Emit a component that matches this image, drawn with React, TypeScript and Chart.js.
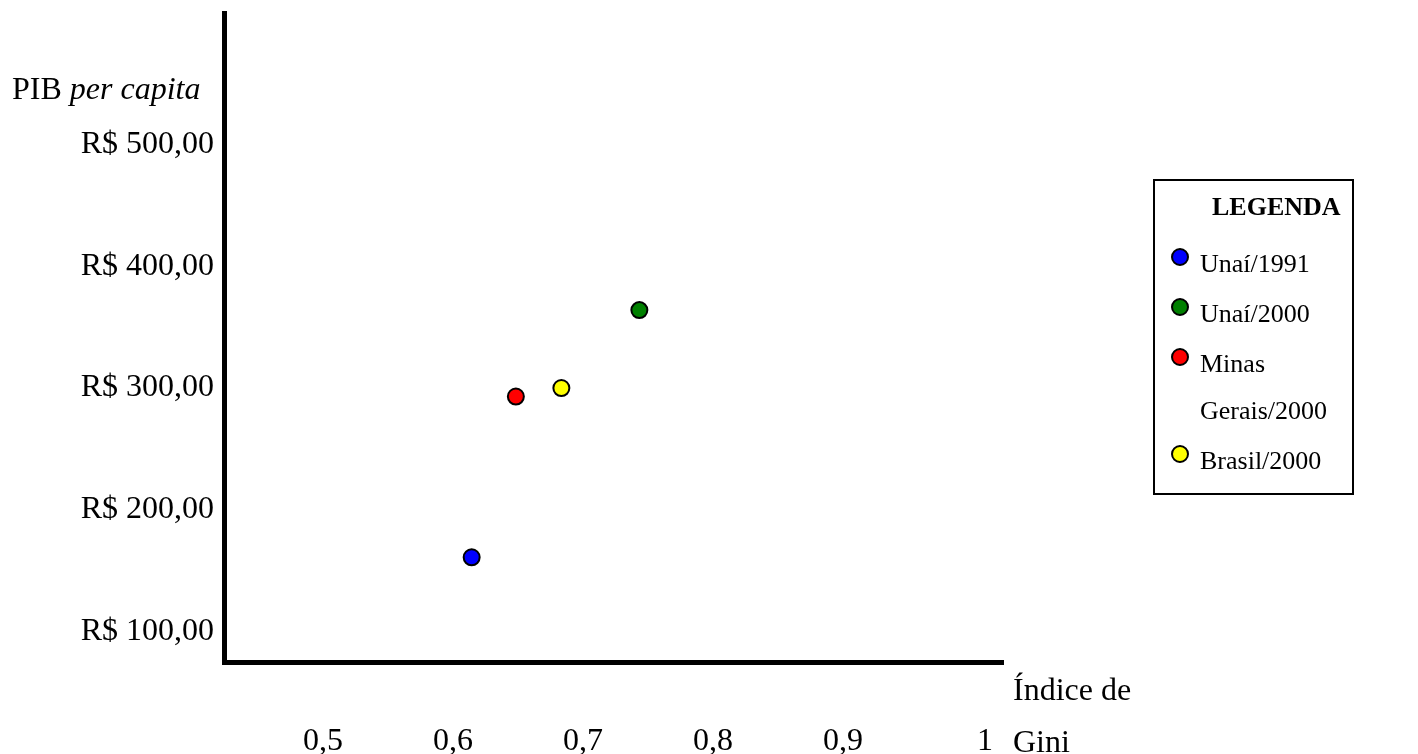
import React, { useEffect, useRef } from 'react';
import { Chart, registerables } from 'chart.js';

Chart.register(...registerables);

// ---- Data ----
const seriesLabels = ['Unaí/1991', 'Unaí/2000', 'Minas Gerais/2000', 'Brasil/2000'];
const giniValues = [0.599, 0.728, 0.633, 0.668];
const pibValues = [161, 364, 293, 300];
const pointColors = ['#0000ff', '#008000', '#ff0000', '#ffff00'];

const xTickValues = [0.5, 0.6, 0.7, 0.8, 0.9, 1];
const xTickLabels = ['0,5', '0,6', '0,7', '0,8', '0,9', '1'];
const yTickValues = [100, 200, 300, 400, 500];
const yTickLabels = ['R$ 100,00', 'R$ 200,00', 'R$ 300,00', 'R$ 400,00', 'R$ 500,00'];

const yTitleNormal = 'PIB ';
const yTitleItalic = 'per capita';
const xTitleLines = ['Índice de', 'Gini'];
const legendTitle = 'LEGENDA';

const FONT = '"Liberation Serif", "Times New Roman", serif';

const titlesPlugin = {
  id: 'axisTitles',
  afterDraw(chart: any) {
    const { ctx, chartArea } = chart;
    ctx.save();
    ctx.fillStyle = '#000';
    ctx.textBaseline = 'alphabetic';
    ctx.textAlign = 'left';
    // y title: "PIB per capita"
    const ty = chartArea.top + 86;
    ctx.font = `32px ${FONT}`;
    ctx.fillText(yTitleNormal, 12, ty);
    const w = ctx.measureText(yTitleNormal).width;
    ctx.font = `italic 32px ${FONT}`;
    ctx.fillText(yTitleItalic, 12 + w, ty);
    // x title at the right end of the axis
    ctx.font = `32px ${FONT}`;
    const tx = chartArea.right + 10;
    ctx.fillText(xTitleLines[0], tx, chartArea.bottom + 38);
    ctx.fillText(xTitleLines[1], tx, chartArea.bottom + 90);
    ctx.restore();
  },
};

const boxLegendPlugin = {
  id: 'boxLegend',
  afterDraw(chart: any) {
    const { ctx } = chart;
    const x0 = chart.width - 264;
    const y0 = 180;
    const bw = 199;
    const bh = 314;
    ctx.save();
    ctx.fillStyle = '#fff';
    ctx.fillRect(x0, y0, bw, bh);
    ctx.strokeStyle = '#000';
    ctx.lineWidth = 2;
    ctx.strokeRect(x0, y0, bw, bh);

    ctx.fillStyle = '#000';
    ctx.textBaseline = 'alphabetic';
    ctx.textAlign = 'left';
    ctx.font = `bold 26px ${FONT}`;
    ctx.fillText(legendTitle, x0 + 58, y0 + 35);

    ctx.font = `26px ${FONT}`;
    const textX = x0 + 46;
    const maxW = x0 + bw - 8 - textX;
    let base = y0 + 92;
    chart.data.datasets.forEach((ds: any) => {
      const words = String(ds.label).split(' ');
      const lines: string[] = [];
      let cur = '';
      words.forEach((wd: string) => {
        const test = cur ? cur + ' ' + wd : wd;
        if (cur && ctx.measureText(test).width > maxW) {
          lines.push(cur);
          cur = wd;
        } else {
          cur = test;
        }
      });
      if (cur) lines.push(cur);

      // marker
      ctx.beginPath();
      ctx.arc(x0 + 26, base - 15, 8, 0, Math.PI * 2);
      ctx.fillStyle = ds.backgroundColor;
      ctx.fill();
      ctx.lineWidth = 2;
      ctx.strokeStyle = '#000';
      ctx.stroke();

      ctx.fillStyle = '#000';
      lines.forEach((ln, i) => {
        ctx.fillText(ln, textX, base + i * 47);
      });
      base += (lines.length - 1) * 47 + 50;
    });
    ctx.restore();
  },
};

export default function App() {
  const canvasRef = useRef<HTMLCanvasElement | null>(null);

  useEffect(() => {
    if (!canvasRef.current) return;
    const datasets = seriesLabels.map((label, i) => ({
      label,
      data: [{ x: giniValues[i], y: pibValues[i] }],
      backgroundColor: pointColors[i],
      borderColor: '#000',
      pointRadius: 8,
      pointBorderWidth: 2,
      pointHoverRadius: 8,
    }));

    const tickFont = { family: FONT, size: 32 };

    const chart = new Chart(canvasRef.current, {
      type: 'scatter',
      data: { datasets },
      options: {
        responsive: false,
        animation: false,
        devicePixelRatio: 1,
        layout: { padding: { top: 13, right: 415, left: 0, bottom: 0 } },
        plugins: {
          legend: { display: false },
          tooltip: { enabled: false },
          title: { display: false },
        },
        scales: {
          x: {
            type: 'linear',
            min: 0.4085,
            max: 1.0077,
            afterBuildTicks: (s: any) => {
              s.ticks = xTickValues.map((v) => ({ value: v }));
            },
            afterFit: (s: any) => {
              s.height = 92;
              s.paddingLeft = 0;
              s.paddingRight = 0;
            },
            ticks: {
              callback: (_v: any, i: number) => xTickLabels[i],
              align: 'end',
              padding: 60,
              font: tickFont,
              color: '#000',
              maxRotation: 0,
              autoSkip: false,
            },
            grid: { display: false, drawTicks: false },
            border: { display: true, width: 5, color: '#000' },
          },
          y: {
            type: 'linear',
            min: 75,
            max: 608,
            afterBuildTicks: (s: any) => {
              s.ticks = yTickValues.map((v) => ({ value: v }));
            },
            afterFit: (s: any) => {
              s.width = 224;
              s.paddingTop = 0;
              s.paddingBottom = 0;
            },
            ticks: {
              callback: (_v: any, i: number) => yTickLabels[i],
              padding: 10,
              font: tickFont,
              color: '#000',
              autoSkip: false,
            },
            grid: { display: false, drawTicks: false },
            border: { display: true, width: 5, color: '#000' },
          },
        },
      } as any,
      plugins: [titlesPlugin, boxLegendPlugin],
    });

    return () => chart.destroy();
  }, []);

  return (
    <div style={{ position: 'fixed', left: 0, top: 0, width: '1418px', height: '754px', background: '#fff' }}>
      <canvas ref={canvasRef} width={1418} height={754} style={{ display: 'block' }} />
    </div>
  );
}
